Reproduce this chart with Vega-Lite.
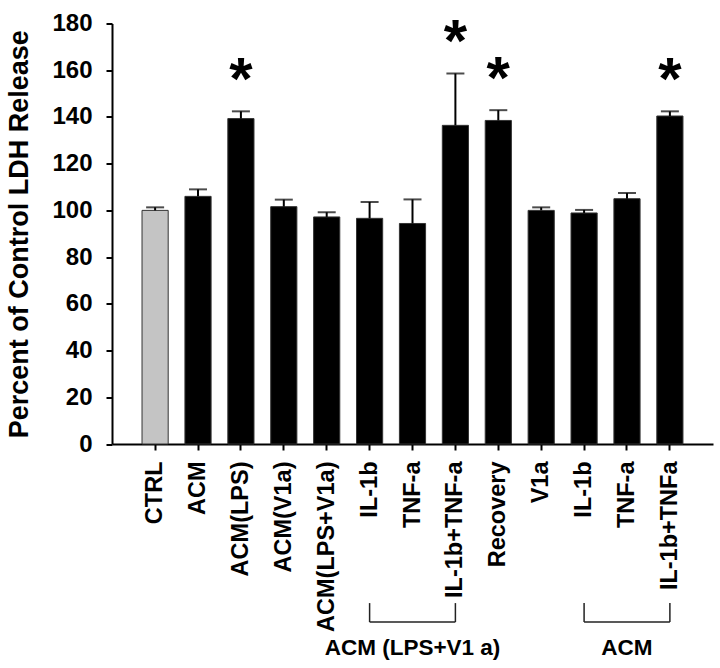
{
  "$schema": "https://vega.github.io/schema/vega-lite/v6.json",
  "autosize": {"type": "none"},
  "padding": {"left": 112, "top": 23.5, "right": 7, "bottom": 224},
  "width": 601,
  "height": 420.5,
  "background": "white",
  "config": {"font": "Liberation Sans", "view": {"stroke": null}},
  "datasets": {
    "bars": [
      {"treatment": "CTRL", "type": "control", "value": 100, "err": 101.3, "sig": ""},
      {"treatment": "ACM", "type": "treatment", "value": 106, "err": 109, "sig": ""},
      {"treatment": "ACM(LPS)", "type": "treatment", "value": 139.3, "err": 142.4, "sig": "*"},
      {"treatment": "ACM(V1a)", "type": "treatment", "value": 101.6, "err": 104.6, "sig": ""},
      {"treatment": "ACM(LPS+V1a)", "type": "treatment", "value": 97.2, "err": 99.2, "sig": ""},
      {"treatment": "IL-1b|ACM (LPS+V1 a)", "type": "treatment", "value": 96.6, "err": 103.6, "sig": ""},
      {"treatment": "TNF-a|ACM (LPS+V1 a)", "type": "treatment", "value": 94.4, "err": 104.7, "sig": ""},
      {"treatment": "IL-1b+TNF-a|ACM (LPS+V1 a)", "type": "treatment", "value": 136.4, "err": 158.6, "sig": "*"},
      {"treatment": "Recovery", "type": "treatment", "value": 138.5, "err": 142.9, "sig": "*"},
      {"treatment": "V1a", "type": "treatment", "value": 100, "err": 101.3, "sig": ""},
      {"treatment": "IL-1b|ACM", "type": "treatment", "value": 98.9, "err": 100.2, "sig": ""},
      {"treatment": "TNF-a|ACM", "type": "treatment", "value": 105, "err": 107.4, "sig": ""},
      {"treatment": "IL-1b+TNFa|ACM", "type": "treatment", "value": 140.4, "err": 142.4, "sig": "*"}
    ],
    "brackets": [
      {"group": "ACM (LPS+V1 a)", "from": "IL-1b|ACM (LPS+V1 a)", "mid": "TNF-a|ACM (LPS+V1 a)", "to": "IL-1b+TNF-a|ACM (LPS+V1 a)"},
      {"group": "ACM", "from": "IL-1b|ACM", "mid": "TNF-a|ACM", "to": "IL-1b+TNFa|ACM"}
    ]
  },
  "layer": [
    {
      "data": {"name": "bars"},
      "mark": {"type": "bar", "stroke": "#333333", "strokeWidth": 1},
      "encoding": {
        "x": {
          "field": "treatment", "type": "nominal", "sort": null,
          "scale": {"domain": ["CTRL", "ACM", "ACM(LPS)", "ACM(V1a)", "ACM(LPS+V1a)", "IL-1b|ACM (LPS+V1 a)", "TNF-a|ACM (LPS+V1 a)", "IL-1b+TNF-a|ACM (LPS+V1 a)", "Recovery", "V1a", "IL-1b|ACM", "TNF-a|ACM", "IL-1b+TNFa|ACM"], "paddingInner": 0.39, "paddingOuter": 0.7},
          "axis": {
            "title": null,
            "labelExpr": "split(datum.label, '|')[0]",
            "labelAngle": -90,
            "labelFontSize": 23.5,
            "labelFontWeight": "bold",
            "labelColor": "black",
            "labelPadding": 11,
            "tickSize": 6,
            "tickWidth": 2,
            "tickColor": "black",
            "domainWidth": 2,
            "domainColor": "black",
            "labelOverlap": false
          }
        },
        "y": {
          "field": "value", "type": "quantitative",
          "scale": {"domain": [0, 180], "nice": false},
          "axis": {
            "title": "Percent of Control LDH Release",
            "titleFontSize": 27,
            "titleFontWeight": "bold",
            "titleColor": "black",
            "titlePadding": 18,
            "values": [0, 20, 40, 60, 80, 100, 120, 140, 160, 180],
            "labelFontSize": 24,
            "labelFontWeight": "bold",
            "labelColor": "black",
            "labelPadding": 14,
            "tickSize": 6,
            "tickWidth": 2,
            "tickColor": "black",
            "domainWidth": 2,
            "domainColor": "black",
            "grid": false
          }
        },
        "color": {
          "field": "type", "type": "nominal",
          "scale": {"domain": ["control", "treatment"], "range": ["#c4c4c4", "#000000"]},
          "legend": null
        }
      }
    },
    {
      "data": {"name": "bars"},
      "mark": {"type": "rule", "color": "black", "strokeWidth": 2},
      "encoding": {
        "x": {"field": "treatment", "type": "nominal", "sort": null},
        "y": {"field": "value", "type": "quantitative"},
        "y2": {"field": "err"}
      }
    },
    {
      "data": {"name": "bars"},
      "mark": {"type": "tick", "color": "black", "size": 18, "thickness": 2},
      "encoding": {
        "x": {"field": "treatment", "type": "nominal", "sort": null},
        "y": {"field": "err", "type": "quantitative"}
      }
    },
    {
      "data": {"name": "bars"},
      "mark": {"type": "text", "fontSize": 60, "fontWeight": "bold", "color": "black", "baseline": "alphabetic", "dy": -12},
      "encoding": {
        "x": {"field": "treatment", "type": "nominal", "sort": null},
        "y": {"field": "err", "type": "quantitative"},
        "text": {"field": "sig"}
      }
    },
    {
      "data": {"name": "brackets"},
      "mark": {"type": "rule", "color": "#222222", "strokeWidth": 1.5},
      "encoding": {
        "x": {"field": "from", "type": "nominal"},
        "y": {"datum": -68.1},
        "y2": {"datum": -76.2}
      }
    },
    {
      "data": {"name": "brackets"},
      "mark": {"type": "rule", "color": "#222222", "strokeWidth": 1.5},
      "encoding": {
        "x": {"field": "to", "type": "nominal"},
        "y": {"datum": -68.1},
        "y2": {"datum": -76.2}
      }
    },
    {
      "data": {"name": "brackets"},
      "mark": {"type": "rule", "color": "#222222", "strokeWidth": 1.5},
      "encoding": {
        "x": {"field": "from", "type": "nominal"},
        "x2": {"field": "to"},
        "y": {"datum": -76.2}
      }
    },
    {
      "data": {"name": "brackets"},
      "mark": {"type": "text", "fontSize": 22.5, "fontWeight": "bold", "color": "black", "baseline": "alphabetic", "dy": 33},
      "encoding": {
        "x": {"field": "mid", "type": "nominal"},
        "y": {"datum": -76.2},
        "text": {"field": "group"}
      }
    }
  ]
}
